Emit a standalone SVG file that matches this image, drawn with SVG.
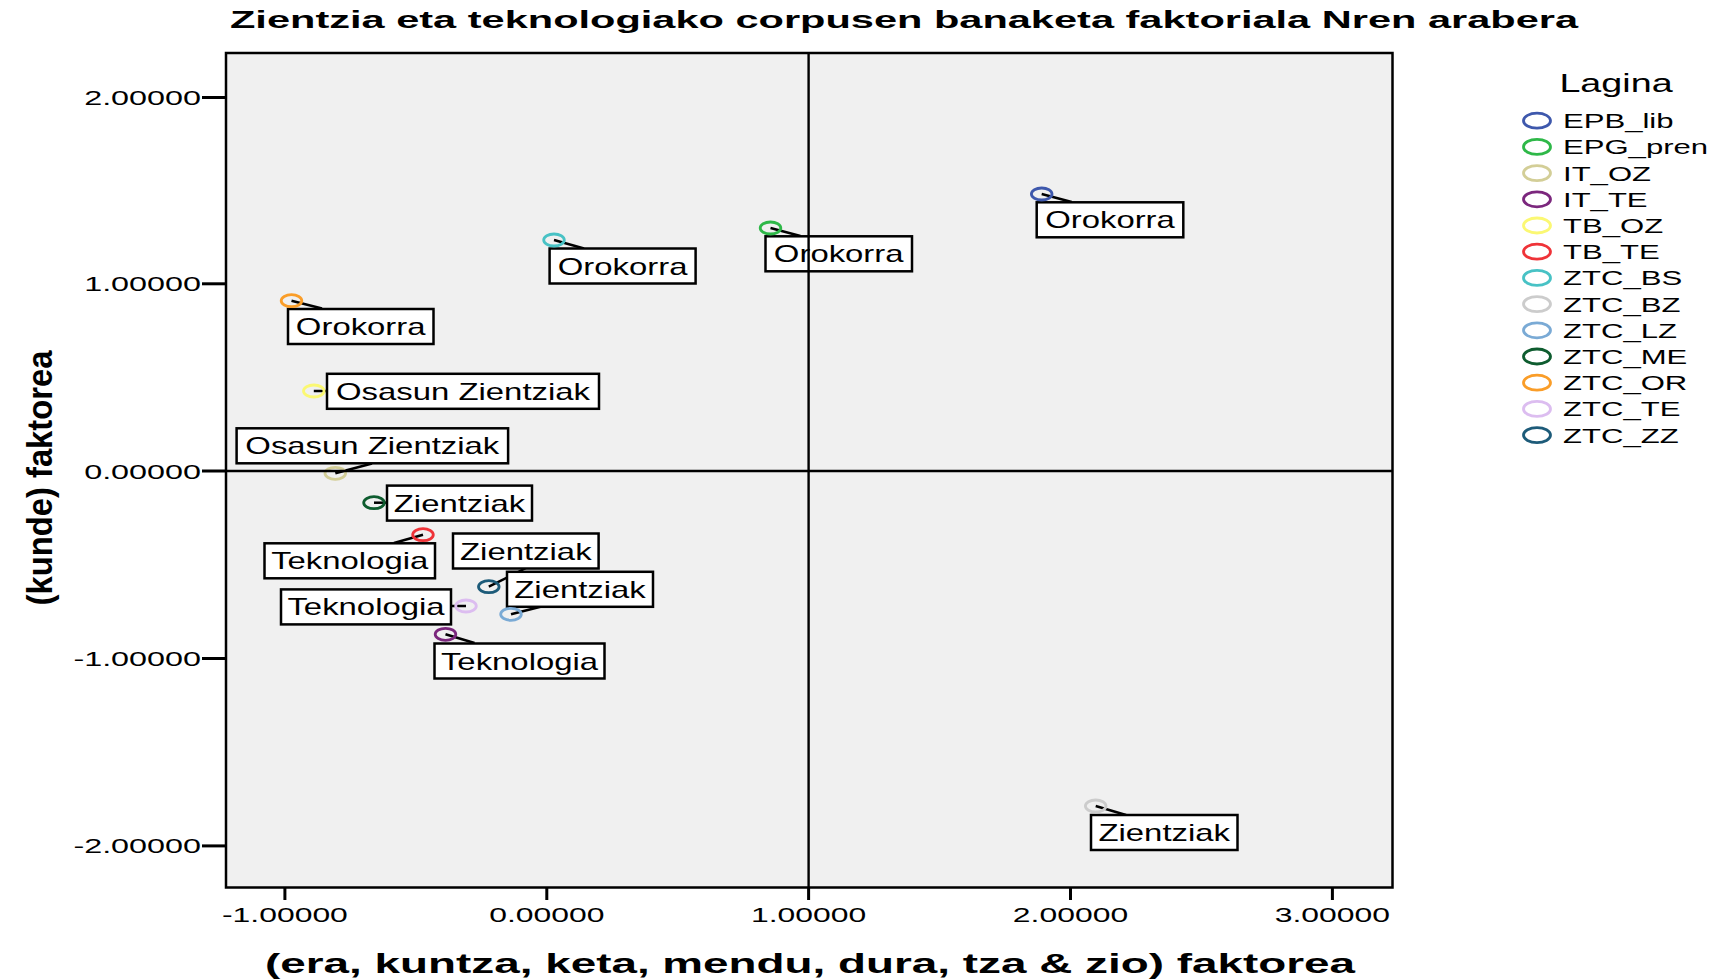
<svg xmlns="http://www.w3.org/2000/svg" width="1718" height="979" viewBox="0 0 1718 979">
<style>
text{font-family:"Liberation Sans",Arial,sans-serif;fill:#000}
.title{font-size:23px;font-weight:bold}
.axt{font-size:27px;font-weight:bold}
.tick{font-size:21px}
.lbl{font-size:23px;text-anchor:middle}
.leg{font-size:21px}
.box{fill:#fff;stroke:#000;stroke-width:2.5}
.mk{fill:none;stroke-width:2.8}
.lead{stroke:#000;stroke-width:2.5;fill:none}
.tk{stroke:#000;stroke-width:3}
</style>
<rect width="1718" height="979" fill="#fff"/>
<text class="title" x="230" y="28" textLength="1348" lengthAdjust="spacingAndGlyphs">Zientzia eta teknologiako corpusen banaketa faktoriala Nren arabera</text>

<g id="plot-area">
<rect x="226" y="53" width="1166.5" height="834.5" fill="#f0f0f0" stroke="#000" stroke-width="2.5"/>
</g>

<g id="y-axis">
<line class="tk" x1="202" y1="97.5" x2="226" y2="97.5"/>
<line class="tk" x1="202" y1="283.8" x2="226" y2="283.8"/>
<line class="tk" x1="202" y1="471" x2="226" y2="471"/>
<line class="tk" x1="202" y1="658.5" x2="226" y2="658.5"/>
<line class="tk" x1="202" y1="845.9" x2="226" y2="845.9"/>
<g text-anchor="end">
<text class="tick" transform="translate(201,105) scale(1.54,1)">2.00000</text>
<text class="tick" transform="translate(201,291.3) scale(1.54,1)">1.00000</text>
<text class="tick" transform="translate(201,478.5) scale(1.54,1)">0.00000</text>
<text class="tick" transform="translate(201,666) scale(1.54,1)">-1.00000</text>
<text class="tick" transform="translate(201,853.4) scale(1.54,1)">-2.00000</text>
</g>
<text class="axt" text-anchor="middle" transform="translate(52,478) scale(1.3,1) rotate(-90)" textLength="255" lengthAdjust="spacingAndGlyphs">(kunde) faktorea</text>
</g>

<g id="x-axis">
<line class="tk" x1="284.9" y1="888" x2="284.9" y2="900"/>
<line class="tk" x1="546.8" y1="888" x2="546.8" y2="900"/>
<line class="tk" x1="808.6" y1="888" x2="808.6" y2="900"/>
<line class="tk" x1="1070.5" y1="888" x2="1070.5" y2="900"/>
<line class="tk" x1="1332.4" y1="888" x2="1332.4" y2="900"/>
<g text-anchor="middle">
<text class="tick" transform="translate(284.9,922) scale(1.52,1)">-1.00000</text>
<text class="tick" transform="translate(546.8,922) scale(1.52,1)">0.00000</text>
<text class="tick" transform="translate(808.6,922) scale(1.52,1)">1.00000</text>
<text class="tick" transform="translate(1070.5,922) scale(1.52,1)">2.00000</text>
<text class="tick" transform="translate(1332.4,922) scale(1.52,1)">3.00000</text>
</g>
<text class="axt" x="810" y="973" text-anchor="middle" textLength="1090" lengthAdjust="spacingAndGlyphs">(era, kuntza, keta, mendu, dura, tza &amp; zio) faktorea</text>
</g>

<g id="connectors">
<line class="lead" x1="1041.7" y1="194" x2="1071.7" y2="202"/>
<line class="lead" x1="770.5" y1="228" x2="800.4" y2="236"/>
<line class="lead" x1="554" y1="240" x2="584" y2="248.5"/>
<line class="lead" x1="291.5" y1="300.7" x2="322" y2="308.5"/>
<line class="lead" x1="313.8" y1="391" x2="327" y2="391"/>
<line class="lead" x1="335.3" y1="473.3" x2="372" y2="463.5"/>
<line class="lead" x1="374" y1="502.7" x2="387" y2="502.7"/>
<line class="lead" x1="423" y1="534.7" x2="394" y2="543"/>
<line class="lead" x1="488.8" y1="586.7" x2="526" y2="568"/>
<line class="lead" x1="511" y1="614.3" x2="541.5" y2="606.5"/>
<line class="lead" x1="466" y1="606" x2="451" y2="606"/>
<line class="lead" x1="445.5" y1="634.3" x2="474.5" y2="643"/>
<line class="lead" x1="1095.7" y1="806" x2="1126" y2="815"/>
</g>

<g id="EPB_lib">
<rect class="box" x="1036.7" y="202.3" width="146.6" height="35"/>
<text class="lbl" transform="translate(1110,228.3) scale(1.43,1)">Orokorra</text>
<ellipse class="mk" cx="1041.7" cy="194" rx="10.3" ry="6" stroke="#3e58ac"/>
</g>
<g id="EPG_pren">
<rect class="box" x="765.5" y="236.3" width="146.5" height="35"/>
<text class="lbl" transform="translate(838.7,262.3) scale(1.43,1)">Orokorra</text>
<ellipse class="mk" cx="770.5" cy="228" rx="10.3" ry="6" stroke="#2eb848"/>
</g>
<g id="ZTC_BS">
<rect class="box" x="549.6" y="248.5" width="146" height="35"/>
<text class="lbl" transform="translate(622.6,274.5) scale(1.43,1)">Orokorra</text>
<ellipse class="mk" cx="554" cy="240" rx="10.3" ry="6" stroke="#48c2c5"/>
</g>
<g id="ZTC_OR">
<rect class="box" x="288" y="309" width="145.5" height="35"/>
<text class="lbl" transform="translate(360.7,335) scale(1.43,1)">Orokorra</text>
<ellipse class="mk" cx="291.5" cy="300.7" rx="10.3" ry="6" stroke="#fa9d28"/>
</g>
<g id="TB_OZ">
<rect class="box" x="327" y="373.8" width="272" height="35"/>
<text class="lbl" transform="translate(463,399.8) scale(1.43,1)">Osasun Zientziak</text>
<ellipse class="mk" cx="313.8" cy="391" rx="10.3" ry="6" stroke="#fbf873"/>
</g>
<g id="IT_OZ">
<rect class="box" x="236.6" y="428.3" width="271.5" height="35"/>
<text class="lbl" transform="translate(372.3,454.3) scale(1.43,1)">Osasun Zientziak</text>
<ellipse class="mk" cx="335.3" cy="473.3" rx="10.3" ry="6" stroke="#d3ce97"/>
</g>
<g id="ZTC_ME">
<rect class="box" x="387" y="485.6" width="145" height="35"/>
<text class="lbl" transform="translate(459.5,511.6) scale(1.43,1)">Zientziak</text>
<ellipse class="mk" cx="374" cy="502.7" rx="10.3" ry="6" stroke="#0e5c2f"/>
</g>
<g id="TB_TE">
<rect class="box" x="264.5" y="543.3" width="170.5" height="35"/>
<text class="lbl" transform="translate(349.7,569.3) scale(1.43,1)">Teknologia</text>
<ellipse class="mk" cx="423" cy="534.7" rx="10.3" ry="6" stroke="#ef3338"/>
</g>
<g id="ZTC_ZZ">
<rect class="box" x="453" y="533.5" width="145.6" height="35"/>
<text class="lbl" transform="translate(525.8,559.5) scale(1.43,1)">Zientziak</text>
<ellipse class="mk" cx="488.8" cy="586.7" rx="10.3" ry="6" stroke="#1d5b79"/>
</g>
<g id="ZTC_LZ">
<rect class="box" x="507" y="571.8" width="146" height="35"/>
<text class="lbl" transform="translate(580,597.8) scale(1.43,1)">Zientziak</text>
<ellipse class="mk" cx="511" cy="614.3" rx="10.3" ry="6" stroke="#7aaad5"/>
</g>
<g id="ZTC_TE">
<rect class="box" x="281" y="589.4" width="170" height="35"/>
<text class="lbl" transform="translate(366,615.4) scale(1.43,1)">Teknologia</text>
<ellipse class="mk" cx="466" cy="606" rx="10.3" ry="6" stroke="#dcbdf0"/>
</g>
<g id="IT_TE">
<rect class="box" x="434.5" y="643.5" width="170" height="35"/>
<text class="lbl" transform="translate(519.5,669.5) scale(1.43,1)">Teknologia</text>
<ellipse class="mk" cx="445.5" cy="634.3" rx="10.3" ry="6" stroke="#7b277d"/>
</g>
<g id="ZTC_BZ">
<rect class="box" x="1091" y="815" width="146.5" height="35"/>
<text class="lbl" transform="translate(1164.2,841) scale(1.43,1)">Zientziak</text>
<ellipse class="mk" cx="1095.7" cy="806" rx="10.3" ry="6" stroke="#cccccc"/>
</g>

<g id="reference-lines">
<line x1="808.6" y1="53" x2="808.6" y2="887.5" stroke="#000" stroke-width="2.4"/>
<line x1="226" y1="471" x2="1392.5" y2="471" stroke="#000" stroke-width="2.3"/>
</g>

<g id="legend">
<text font-size="26" text-anchor="middle" transform="translate(1616,91.7) scale(1.45,1)">Lagina</text>
<g class="mk" stroke-width="3">
<ellipse cx="1537" cy="120.7" rx="13.5" ry="7.5" stroke="#3e58ac"/>
<ellipse cx="1537" cy="146.9" rx="13.5" ry="7.5" stroke="#2eb848"/>
<ellipse cx="1537" cy="173.1" rx="13.5" ry="7.5" stroke="#d3ce97"/>
<ellipse cx="1537" cy="199.3" rx="13.5" ry="7.5" stroke="#7b277d"/>
<ellipse cx="1537" cy="225.5" rx="13.5" ry="7.5" stroke="#fbf873"/>
<ellipse cx="1537" cy="251.7" rx="13.5" ry="7.5" stroke="#ef3338"/>
<ellipse cx="1537" cy="277.9" rx="13.5" ry="7.5" stroke="#48c2c5"/>
<ellipse cx="1537" cy="304.1" rx="13.5" ry="7.5" stroke="#cccccc"/>
<ellipse cx="1537" cy="330.3" rx="13.5" ry="7.5" stroke="#7aaad5"/>
<ellipse cx="1537" cy="356.5" rx="13.5" ry="7.5" stroke="#0e5c2f"/>
<ellipse cx="1537" cy="382.7" rx="13.5" ry="7.5" stroke="#fa9d28"/>
<ellipse cx="1537" cy="408.9" rx="13.5" ry="7.5" stroke="#dcbdf0"/>
<ellipse cx="1537" cy="435.1" rx="13.5" ry="7.5" stroke="#1d5b79"/>
</g>
<text class="leg" transform="translate(1563,128.2) scale(1.48,1)">EPB_lib</text>
<text class="leg" transform="translate(1563,154.4) scale(1.48,1)">EPG_pren</text>
<text class="leg" transform="translate(1563,180.6) scale(1.48,1)">IT_OZ</text>
<text class="leg" transform="translate(1563,206.8) scale(1.48,1)">IT_TE</text>
<text class="leg" transform="translate(1563,233) scale(1.48,1)">TB_OZ</text>
<text class="leg" transform="translate(1563,259.2) scale(1.48,1)">TB_TE</text>
<text class="leg" transform="translate(1563,285.4) scale(1.48,1)">ZTC_BS</text>
<text class="leg" transform="translate(1563,311.6) scale(1.48,1)">ZTC_BZ</text>
<text class="leg" transform="translate(1563,337.8) scale(1.48,1)">ZTC_LZ</text>
<text class="leg" transform="translate(1563,364) scale(1.48,1)">ZTC_ME</text>
<text class="leg" transform="translate(1563,390.2) scale(1.48,1)">ZTC_OR</text>
<text class="leg" transform="translate(1563,416.4) scale(1.48,1)">ZTC_TE</text>
<text class="leg" transform="translate(1563,442.6) scale(1.48,1)">ZTC_ZZ</text>
</g>
</svg>
